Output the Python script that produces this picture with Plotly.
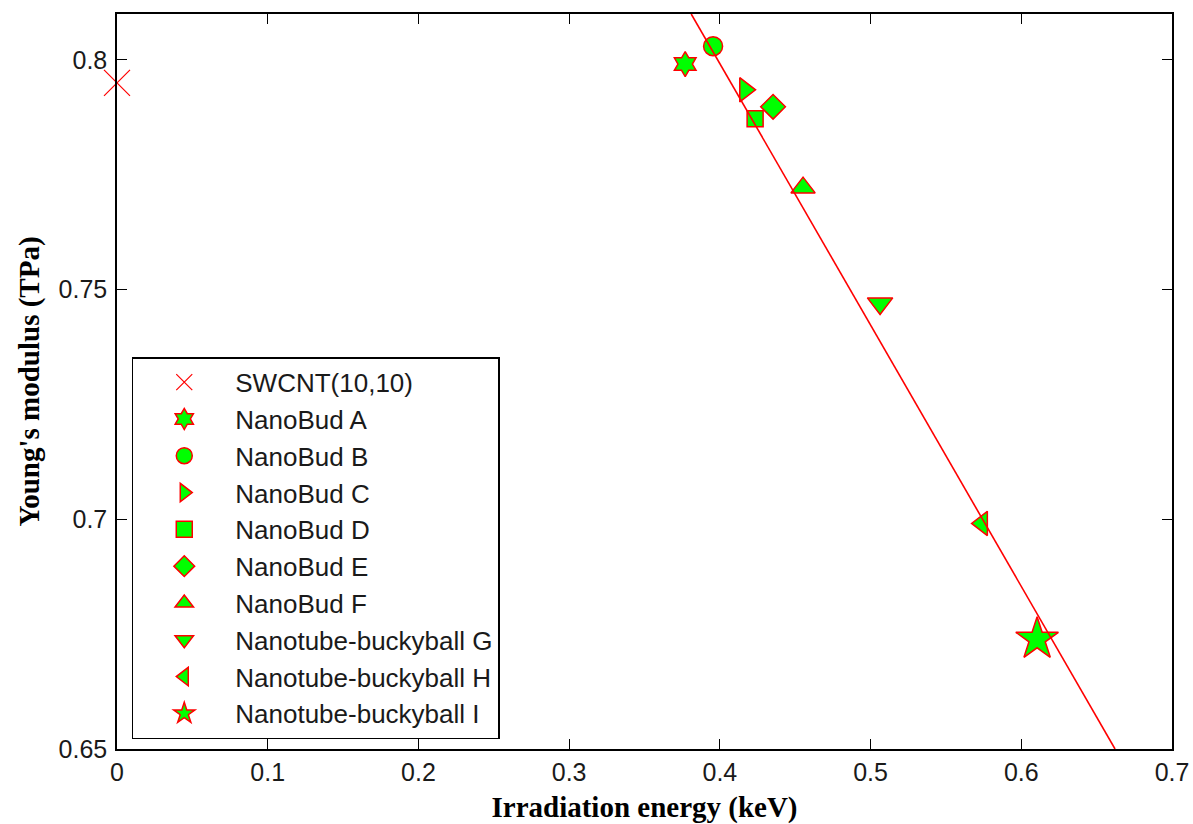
import plotly.graph_objects as go

# ---- data ----
names = ["SWCNT(10,10)", "NanoBud A", "NanoBud B", "NanoBud C", "NanoBud D",
         "NanoBud E", "NanoBud F", "Nanotube-buckyball G",
         "Nanotube-buckyball H", "Nanotube-buckyball I"]
energy = [0.0, 0.377, 0.3955, 0.4167, 0.4234, 0.4353, 0.4552, 0.5063, 0.574, 0.6105]
modulus = [0.795, 0.7991, 0.8030, 0.7935, 0.7872, 0.7898, 0.7722, 0.7470, 0.6991, 0.6739]
symbols = ["x-thin", "hexagram", "circle", "triangle-right", "square",
           "diamond", "triangle-up", "triangle-down", "triangle-left", "star"]
sizes = [26, 19, 19, 21, 16, 19, 21, 22, 21, 32]

fit_x = [0.381, 0.6622]
fit_y = [0.81, 0.65]

x_ticks = [0, 0.1, 0.2, 0.3, 0.4, 0.5, 0.6, 0.7]
y_ticks = [0.65, 0.7, 0.75, 0.8]

RED = "#ff0000"
GREEN = "#00ff00"

fig = go.Figure()
for n, xv, yv, s, sz in zip(names, energy, modulus, symbols, sizes):
    if s == "x-thin":
        marker = dict(symbol=s, size=sz, color=RED, line=dict(color=RED, width=1.2))
    else:
        marker = dict(symbol=s, size=sz, color=GREEN, line=dict(color=RED, width=1.5))
    fig.add_trace(go.Scatter(x=[xv], y=[yv], mode="markers", name=n,
                             marker=marker, legendgroup=n, cliponaxis=False))

fig.add_trace(go.Scatter(x=fit_x, y=fit_y, mode="lines", showlegend=False,
                         line=dict(color=RED, width=1.6)))

axis_common = dict(showline=True, linecolor="#000", linewidth=1.5, mirror="ticks",
                   ticks="inside", ticklen=10, tickwidth=1.2, tickcolor="#000",
                   showgrid=False, zeroline=False, automargin=False,
                   tickfont=dict(family="Liberation Sans, Arial", size=25, color="#1a1a1a"))

title_font = dict(family="Liberation Serif, Times New Roman", size=29, color="#000")

fig.update_xaxes(range=[0, 0.7], tickvals=x_ticks, ticktext=[f"{v:g}" for v in x_ticks],
                 title=dict(text="<b>Irradiation energy (keV)</b>", font=title_font, standoff=12),
                 **axis_common)
fig.update_yaxes(range=[0.65, 0.81], tickvals=y_ticks, ticktext=[f"{v:g}" for v in y_ticks],
                 title=dict(text="<b>Young's modulus (TPa)</b>", font=title_font, standoff=10),
                 ticklabelstandoff=3,
                 **axis_common)

fig.update_layout(
    width=1193, height=824,
    margin=dict(l=117, r=21, t=14, b=75),
    plot_bgcolor="white", paper_bgcolor="white",
    showlegend=True,
    legend=dict(x=0.014, y=0.533, xanchor="left", yanchor="top",
                bgcolor="white", bordercolor="#000", borderwidth=1.5,
                font=dict(family="Liberation Sans, Arial", size=26, color="#1a1a1a"),
                tracegroupgap=0, itemwidth=92, itemsizing="trace"),
)

fig.write_html("out.html", config={"displayModeBar": False},
               post_script="document.body.style.margin='0';")
